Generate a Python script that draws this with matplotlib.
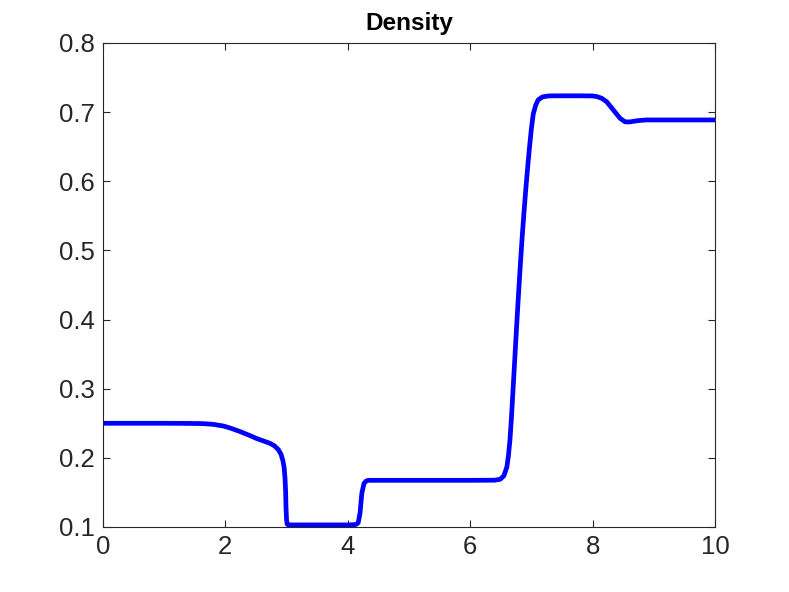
import matplotlib
matplotlib.use("Agg")
import matplotlib.pyplot as plt

# Density profile
x_vals = [0.00, 0.50, 1.00, 1.40, 1.63, 1.80, 1.97, 2.10, 2.24, 2.38, 2.51, 2.62, 2.73, 2.80,
          2.865, 2.91, 2.94, 2.96, 2.975, 2.985, 2.99, 3.00, 3.01, 3.03, 3.10,
          3.50, 4.00, 4.13, 4.17, 4.20, 4.23, 4.265, 4.30, 4.335, 4.40,
          5.00, 6.00, 6.40, 6.49, 6.55, 6.60, 6.625, 6.65, 6.675, 6.70, 6.73, 6.76, 6.79, 6.82,
          6.85, 6.88, 6.91, 6.94, 6.97, 7.00, 7.03, 7.07, 7.11, 7.18, 7.28, 7.40, 7.80, 8.00,
          8.07, 8.15, 8.23, 8.34, 8.45, 8.53, 8.60, 8.66, 8.75, 8.88, 9.20, 9.60, 10.00]
y_vals = [0.2500, 0.2500, 0.2500, 0.2498, 0.2495, 0.2485, 0.2460, 0.2425, 0.2380, 0.2330, 0.2280, 0.2245, 0.2210, 0.2175,
          0.2120, 0.2050, 0.1960, 0.1860, 0.1700, 0.1500, 0.1300, 0.1100, 0.1040, 0.1030, 0.1030,
          0.1030, 0.1030, 0.1035, 0.1060, 0.1200, 0.1490, 0.1630, 0.1665, 0.1675, 0.1675,
          0.1675, 0.1675, 0.1677, 0.1690, 0.1740, 0.1870, 0.2030, 0.2260, 0.2590, 0.2980, 0.3450, 0.3920, 0.4370, 0.4800,
          0.5200, 0.5560, 0.5900, 0.6210, 0.6500, 0.6760, 0.6970, 0.7100, 0.7176, 0.7220, 0.7234, 0.7236, 0.7236, 0.7234,
          0.7225, 0.7200, 0.7150, 0.7030, 0.6910, 0.6860, 0.6858, 0.6866, 0.6878, 0.6887, 0.6887, 0.6887, 0.6887]

x_ticks = [0, 2, 4, 6, 8, 10]
y_ticks = [0.1, 0.2, 0.3, 0.4, 0.5, 0.6, 0.7, 0.8]
title_text = "Density"

plt.rcParams['font.family'] = ['Liberation Sans', 'DejaVu Sans']

fig = plt.figure(figsize=(7.89, 5.92), dpi=100)
ax = fig.add_axes([0.1305, 0.1098, 0.7757, 0.8176])

ax.plot(x_vals, y_vals, color='#0000ff', linewidth=3.4, solid_joinstyle='round')

ax.set_xlim(0, 10)
ax.set_ylim(0.1, 0.8)
ax.set_xticks(x_ticks)
ax.set_yticks(y_ticks)
ax.set_xticklabels([str(t) for t in x_ticks])
ax.set_yticklabels([f"{t:.1f}" for t in y_ticks])

edge = '#262626'
for s in ax.spines.values():
    s.set_color(edge)
    s.set_linewidth(0.8)
ax.tick_params(direction='in', length=5, width=0.8, colors=edge, labelsize=18.5,
               top=True, right=True)
ax.tick_params(axis='x', pad=6)
ax.tick_params(axis='y', pad=6)

ax.set_title(title_text, fontsize=17.5, fontweight='bold', color='black', pad=9)

fig.savefig("out.png", dpi=100, facecolor='white')
